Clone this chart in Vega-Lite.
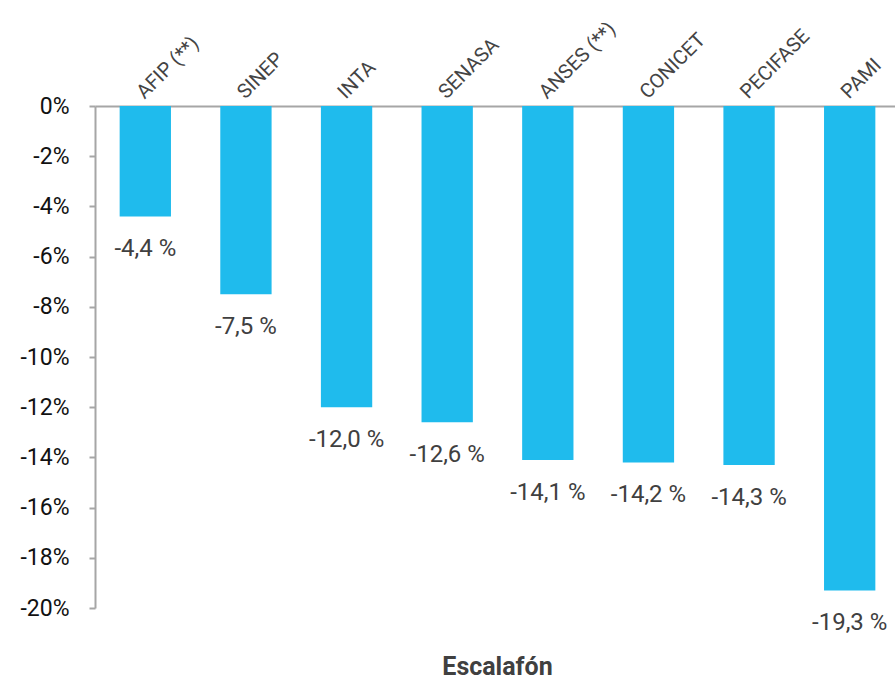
{
  "$schema": "https://vega.github.io/schema/vega-lite/v6.json",
  "autosize": {"type": "none"},
  "padding": {"left": 95, "top": 106, "right": 0, "bottom": 74},
  "width": 805,
  "height": 502,
  "config": {"font": "Roboto", "view": {"stroke": null}},
  "data": {"values": [
    {"escalafon": "AFIP (**)", "variacion": -4.4, "etiqueta": "-4,4 %"},
    {"escalafon": "SINEP", "variacion": -7.5, "etiqueta": "-7,5 %"},
    {"escalafon": "INTA", "variacion": -12.0, "etiqueta": "-12,0 %"},
    {"escalafon": "SENASA", "variacion": -12.6, "etiqueta": "-12,6 %"},
    {"escalafon": "ANSES (**)", "variacion": -14.1, "etiqueta": "-14,1 %"},
    {"escalafon": "CONICET", "variacion": -14.2, "etiqueta": "-14,2 %"},
    {"escalafon": "PECIFASE", "variacion": -14.3, "etiqueta": "-14,3 %"},
    {"escalafon": "PAMI", "variacion": -19.3, "etiqueta": "-19,3 %"}
  ]},
  "encoding": {
    "x": {
      "field": "escalafon", "type": "nominal", "sort": null,
      "scale": {"paddingInner": 0.49, "paddingOuter": 0.245},
      "axis": {
        "orient": "top", "title": "Escalafón", "labelAngle": -45,
        "labelAlign": "left", "labelBaseline": "middle",
        "labelFontSize": 20, "labelColor": "#444444", "labelPadding": 11, "labelOffset": -5,
        "ticks": false, "domainColor": "#a6a6a6", "domainWidth": 2,
        "titleY": 560, "titleX": 402, "titleFontSize": 25, "titleFontWeight": "bold",
        "titleColor": "#404040", "titleBaseline": "middle", "titleAnchor": "middle", "titleAlign": "center"
      }
    },
    "y": {
      "field": "variacion", "type": "quantitative",
      "scale": {"domain": [-20, 0], "nice": false},
      "axis": {
        "title": null, "values": [0, -2, -4, -6, -8, -10, -12, -14, -16, -18, -20],
        "labelExpr": "datum.value + '%'", "labelFontSize": 23, "labelColor": "#111111",
        "labelPadding": 20, "grid": false, "domainColor": "#a6a6a6", "domainWidth": 2,
        "tickColor": "#a6a6a6", "tickWidth": 2, "tickSize": 6
      }
    }
  },
  "layer": [
    {"mark": {"type": "bar", "color": "#1fbbed"}},
    {"mark": {"type": "text", "baseline": "middle", "dy": 33, "fontSize": 24, "color": "#404040"},
     "encoding": {"text": {"field": "etiqueta"}}}
  ]
}
